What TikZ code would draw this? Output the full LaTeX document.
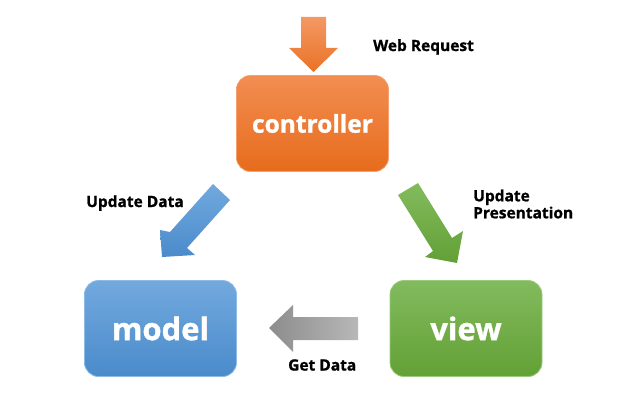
\documentclass[tikz,border=0pt]{standalone}
\usepackage{fontspec}
\setmainfont{Open Sans}[BoldFeatures={FakeBold=1.1}]
\definecolor{orTop}{HTML}{F28D52}
\definecolor{orBot}{HTML}{E76C1C}
\definecolor{orLine}{HTML}{F4A070}
\definecolor{blTop}{HTML}{72A9DE}
\definecolor{blBot}{HTML}{4A8BCB}
\definecolor{blLine}{HTML}{8DBBE6}
\definecolor{grTop}{HTML}{82BB5E}
\definecolor{grBot}{HTML}{63A035}
\definecolor{grLine}{HTML}{9ACB7C}
\tikzset{
  mvcbox/.style={rounded corners=14pt, minimum width=152pt, minimum height=96pt,
    line width=0.8pt, text=white, font=\fontsize{31}{36}\selectfont\bfseries},
  lbl/.style={font=\fontsize{15.5}{18}\selectfont\bfseries, text=black, inner sep=0pt, anchor=west, align=left},
}
\begin{document}
\begin{tikzpicture}[x=1pt,y=-1pt]
\useasboundingbox (0,0) rectangle (628,414);
% boxes
\node[mvcbox, draw=orLine, top color=orTop, bottom color=orBot, font=\fontsize{24.5}{28}\selectfont\bfseries] (controller) at (312.5,123.5) {controller};
\node[mvcbox, draw=blLine, top color=blTop, bottom color=blBot] (model) at (160.5,328.5) {model};
\node[mvcbox, draw=grLine, top color=grTop, bottom color=grBot] (view) at (466,328.5) {view};
% block arrows
\shade[top color=orTop!90!white, bottom color=orBot!80!orTop]
  (301,17) -- (326,17) -- (326,48) -- (338,48) -- (313.5,72) -- (289,48) -- (301,48) -- cycle;
\shade[top color=blTop, bottom color=blBot]
  (213,184) -- (230,200) -- (187,248) -- (195,255) -- (162,257) -- (160,230) -- (170,232) -- cycle;
\shade[top color=grTop, bottom color=grBot]
  (398,195) -- (418,183) -- (452,238) -- (463,231) -- (457,263) -- (425,257) -- (433,251) -- cycle;
\shade[left color=black!45, right color=black!28]
  (269,328) -- (293,305) -- (293,317) -- (358,317) -- (358,340) -- (293,340) -- (293,352) -- cycle;
% labels
\node[lbl] (web) at (373,47) {Web Request};
\node[lbl] (upd) at (86,203) {Update Data};
\node[lbl] (updp) at (473,204) {Update\\[-1pt]Presentation};
\node[lbl] (get) at (288,365) {Get Data};
\end{tikzpicture}
\end{document}
